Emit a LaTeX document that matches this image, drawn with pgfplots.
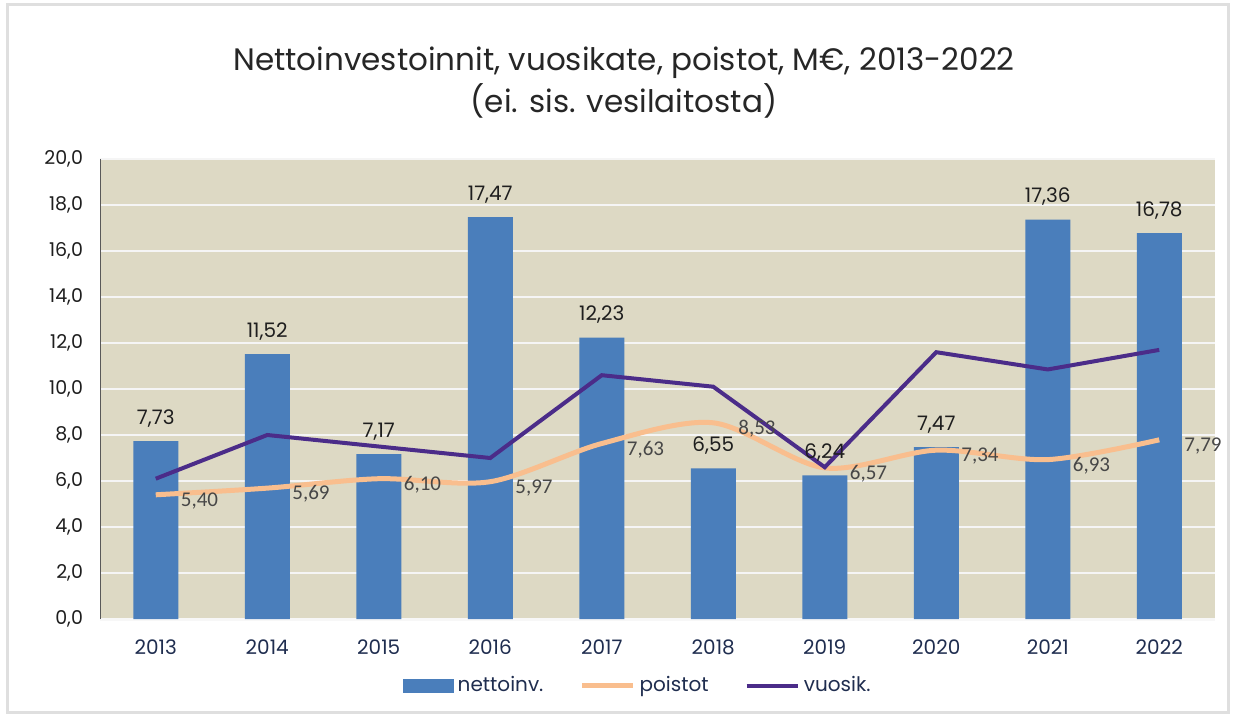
\documentclass[border=0pt]{standalone}
\usepackage{pgfplots}
\pgfplotsset{compat=1.18}
\usepackage{fontspec}
\setmainfont{Poppins}
\newfontfamily\labfont{Carlito}
\definecolor{bg}{RGB}{221,217,196}
\definecolor{barblue}{RGB}{74,126,187}
\definecolor{bartop}{RGB}{47,85,134}
\definecolor{poist}{RGB}{249,190,142}
\definecolor{vuos}{RGB}{75,44,137}
\definecolor{txt}{RGB}{30,30,30}
\definecolor{xtxt}{RGB}{31,45,79}
\begin{document}
\begin{tikzpicture}
\useasboundingbox (-50pt,-49pt) rectangle (567.5pt,309.5pt);
\draw[gray!25, line width=1.5pt] (-46pt,-46.5pt) rectangle (564pt,307pt);
\begin{axis}[
  scale only axis,
  width=557.5pt, height=230pt,
  xmin=-0.5, xmax=9.5, ymin=0, ymax=20,
  xtick={0,...,9},
  xticklabels={2013,2014,2015,2016,2017,2018,2019,2020,2021,2022},
  ytick={0,2,...,20},
  yticklabel style={/pgf/number format/fixed, /pgf/number format/fixed zerofill, /pgf/number format/precision=1, /pgf/number format/use comma, /pgf/number format/assume math mode=true,
    font=\fontsize{9.5}{11}\selectfont, text=txt, xshift=-5pt},
  xticklabel style={font=\fontsize{10}{12}\selectfont, text=xtxt, yshift=-7pt},
  major tick length=0pt,
  axis background/.style={fill=bg},
  ymajorgrids,
  grid style={white!92!gray, line width=1pt},
  axis x line*=bottom, axis y line*=left,
  x axis line style={draw=white!94!gray, line width=1.5pt, -},
  y axis line style={draw=gray!70!black, line width=0.5pt, -},
  title={Nettoinvestoinnit, vuosikate, poistot, M€, 2013-2022\\(ei. sis. vesilaitosta)},
  title style={align=center, font=\fontsize{15.5}{21}\selectfont, text=black!85, at={(0.47,1)}, anchor=south, yshift=11pt},
  legend style={at={(0.483,-0.145)}, anchor=center, draw=none, fill=none, legend columns=-1, font=\fontsize{10}{12}\selectfont, text=xtxt, /tikz/every even column/.append style={column sep=16pt}},
  legend cell align=left,
]
\addplot[ybar, bar width=22.5pt, fill=barblue, draw=none,
  nodes near coords, point meta=explicit symbolic,
  every node near coord/.append style={font=\fontsize{10}{11}\selectfont, text=txt, yshift=3.5pt},
  area legend,
  legend image code/.code={\fill[barblue] (0cm,-0.12cm) rectangle (0.9cm,0.12cm);}]
coordinates {(0,7.73)[7,73] (1,11.52)[11,52] (2,7.17)[7,17] (3,17.47)[17,47] (4,12.23)[12,23] (5,6.55)[6,55] (6,6.24)[6,24] (7,7.47)[7,47] (8,17.36)[17,36] (9,16.78)[16,78]};
\addlegendentry{nettoinv.}
\addplot[poist, line width=2.5pt, smooth, no markers,
  nodes near coords, point meta=explicit symbolic,
  every node near coord/.append style={font=\labfont\fontsize{10.5}{12}\selectfont, text=black!72, anchor=west, xshift=8pt, yshift=-3pt},
  legend image code/.code={\draw[poist, line width=2.5pt] (0cm,0cm) -- (0.9cm,0cm);}]
coordinates {(0,5.40)[5,40] (1,5.69)[5,69] (2,6.10)[6,10] (3,5.97)[5,97] (4,7.63)[7,63] (5,8.53)[8,53] (6,6.57)[6,57] (7,7.34)[7,34] (8,6.93)[6,93] (9,7.79)[7,79]};
\addlegendentry{poistot}
\addplot[vuos, line width=2pt, no markers,
  legend image code/.code={\draw[vuos, line width=2pt] (0cm,0cm) -- (0.9cm,0cm);}]
coordinates {(0,6.1) (1,8.0) (2,7.5) (3,7.0) (4,10.6) (5,10.1) (6,6.6) (7,11.6) (8,10.85) (9,11.7)};
\addlegendentry{vuosik.}
\end{axis}
\end{tikzpicture}
\end{document}
